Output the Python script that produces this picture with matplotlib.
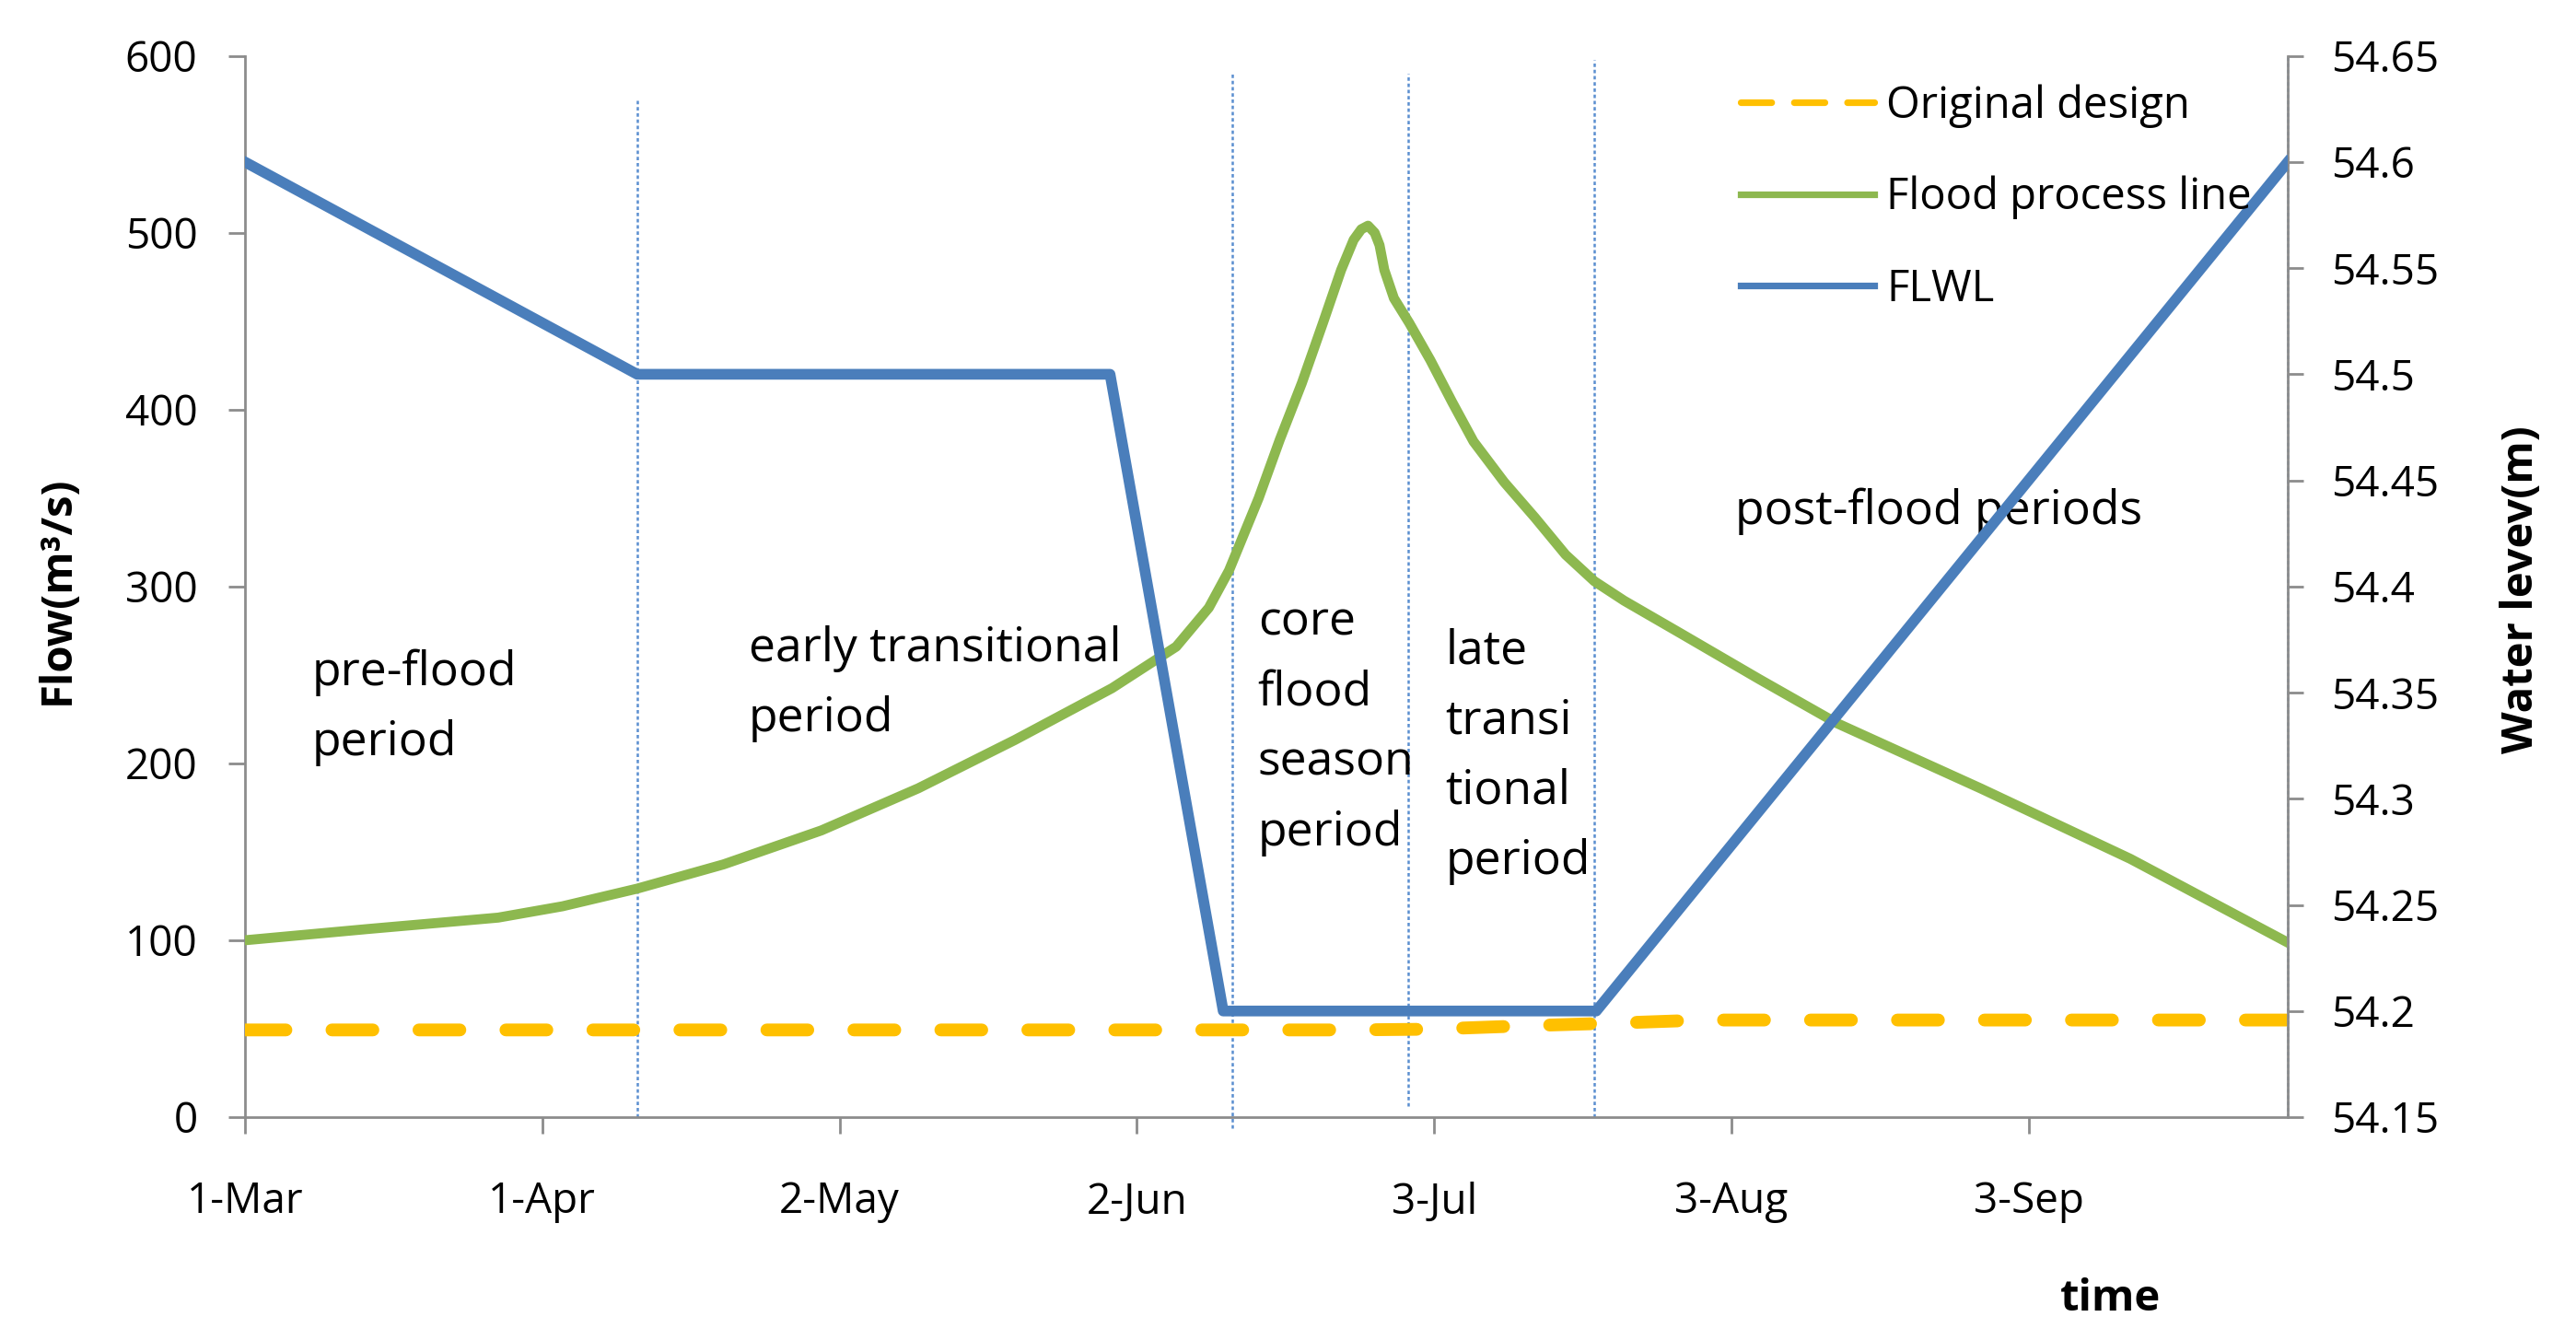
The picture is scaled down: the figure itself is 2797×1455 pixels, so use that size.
import matplotlib
matplotlib.use('Agg')
import matplotlib.pyplot as plt
from matplotlib.lines import Line2D

plt.rcParams['font.family'] = ['Open Sans', 'DejaVu Sans']

# days counted from 1-Mar
tick_days = [0, 31, 62, 93, 124, 155, 186]
tick_labels = ['1-Mar', '1-Apr', '2-May', '2-Jun', '3-Jul', '3-Aug', '3-Sep']

# Flood process line (m3/s)
flood_days = [0, 12.9, 26.4, 33.1, 40.9, 49.9, 60.1, 70.2, 80.3, 90.4, 97.1,
              100.5, 102.6, 105.7, 107.9, 110.2, 112.4, 114.3, 115.6, 116.4,
              117.1, 117.8, 118.3, 118.8, 119.8, 121.4, 123.6, 125.9, 128.1,
              131.3, 134.5, 137.7, 140.7, 143.8, 149.7, 157.9, 166, 181,
              196.6, 212.9]
flood_flow = [100, 106.4, 112.8, 119.2, 129.2, 142.9, 162.1, 185.9, 213.3, 242.5, 266,
              288, 309, 350, 383, 415, 449, 479, 496, 502,
              504, 500, 493, 479, 463, 449, 428, 404, 382,
              359, 339, 318, 303, 292, 273.5, 247.6, 222.7, 185.8,
              146, 99]

# Original design (m3/s)
design_days = [0, 115, 123.5, 133.8, 143.5, 152, 213]
design_flow = [49.3, 49.3, 49.7, 51.7, 53.3, 54.9, 54.9]

# FLWL (m, right axis)
flwl_days = [0, 40.9, 90.2, 102.0, 140.9, 213]
flwl_level = [54.6, 54.5, 54.5, 54.2, 54.2, 54.6]

# period boundaries (dotted lines), in flow units
bound_days = [40.9, 102.9, 121.3, 140.7, 213]
bound_top = [575, 590, 590, 598, 600]
bound_bottom = [0, -6, 6, 0, 0]

period_labels = ['pre-flood\nperiod', 'early transitional\nperiod',
                 'core\nflood\nseason\nperiod', 'late\ntransi\ntional\nperiod',
                 'post-flood periods']
period_x = [7.0, 52.5, 105.6, 125.2, 155.4]
period_y = [265, 278, 293, 277, 356]

blue = '#4A7EBB'
green = '#8DB84F'
orange = '#FFC000'
axis_gray = '#8C8C8C'

W, H = 2797, 1455
fig = plt.figure(figsize=(W / 200, H / 200), dpi=200)
ax = fig.add_axes([266 / W, 1 - 1213 / H, (2484 - 266) / W, (1213 - 60.7) / H])
ax2 = ax.twinx()

ax.vlines(bound_days, bound_bottom, bound_top, colors='#5B8FD0', lw=0.9,
          linestyles=(0, (1.5, 1.2)), clip_on=False, zorder=1)

ax.plot(design_days, design_flow, color=orange, lw=5.0, dashes=(3.2, 3.6),
        dash_capstyle='round', zorder=3)
ax.plot(flood_days, flood_flow, color=green, lw=3.9, solid_joinstyle='round', zorder=3)
ax2.plot(flwl_days, flwl_level, color=blue, lw=4.2, zorder=4)

ax.set_xlim(0, 213)
ax.set_ylim(0, 600)
ax.set_yticks(range(0, 601, 100))
ax2.set_ylim(54.15, 54.65)
r_ticks = [54.15 + 0.05 * i for i in range(11)]
ax2.set_yticks(r_ticks)
ax2.set_yticklabels([f'{round(v, 2):g}' for v in r_ticks])
ax.set_xticks(tick_days)
ax.set_xticklabels(tick_labels)

for a in (ax, ax2):
    a.spines['top'].set_visible(False)
    for s in ('left', 'bottom', 'right'):
        a.spines[s].set_color(axis_gray)
        a.spines[s].set_linewidth(1.0)
ax.spines['right'].set_visible(False)
ax2.spines['left'].set_visible(False)
ax2.spines['bottom'].set_visible(False)

ax.tick_params(axis='x', direction='out', length=6.5, width=1, color=axis_gray,
               labelsize=16.5, pad=18.5)
ax.tick_params(axis='y', direction='out', length=6.5, width=1, color=axis_gray,
               labelsize=16.5, pad=12)
ax2.tick_params(axis='y', direction='out', length=6, width=1, color=axis_gray,
                labelsize=16.5, pad=10.8)

for lab, x, y in zip(period_labels, period_x, period_y):
    ax.text(x, y, lab, fontsize=18.6, ha='left', va='top', linespacing=1.65, zorder=5)

ax.set_ylabel('Flow(m³/s)', fontsize=17, fontweight='bold', va='center', ha='center')
ax.yaxis.set_label_coords(-0.0917, 0.497)
ax2.set_ylabel('Water levev(m)', fontsize=17, fontweight='bold', va='center', ha='center')
ax2.yaxis.set_label_coords(1.1145, 0.497)
ax.set_xlabel('time', fontsize=17, fontweight='bold', va='center', ha='center')
ax.xaxis.set_label_coords(0.913, -0.171)

handles = [
    Line2D([], [], color=orange, lw=2.6, dashes=(4.6, 3.4), dash_capstyle='round'),
    Line2D([], [], color=green, lw=2.6),
    Line2D([], [], color=blue, lw=2.6),
]
ax2.legend(handles, ['Original design', 'Flood process line', 'FLWL'],
           loc='upper left', bbox_to_anchor=(0.7322, 0.9733), frameon=False,
           fontsize=17, borderpad=0, borderaxespad=0, handlelength=3.06,
           handletextpad=0.29, labelspacing=1.1)

fig.savefig('out.png', dpi=200)
